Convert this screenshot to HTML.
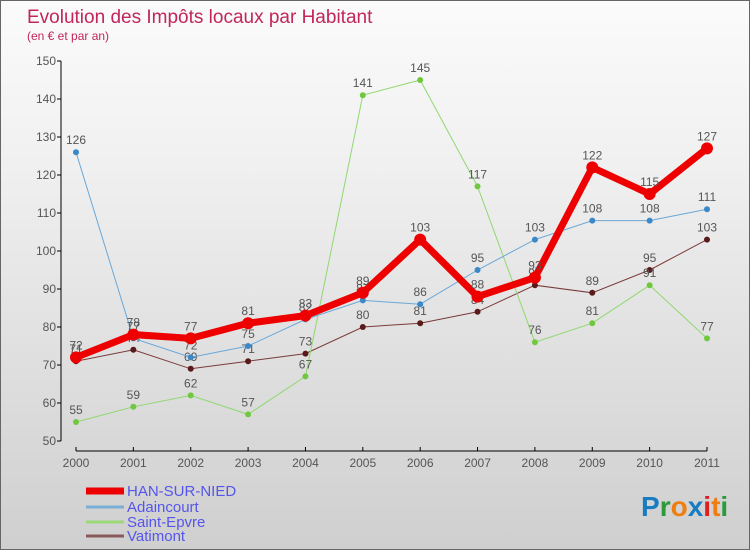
<!DOCTYPE html>
<html><head><meta charset="utf-8"><style>
body{margin:0}
#c{width:750px;height:550px;position:relative;background:linear-gradient(#fbfbfb,#f0f0f0 30%,#cfcfcf);border:1px solid #666;box-sizing:border-box;font-family:"Liberation Sans",sans-serif;overflow:hidden}
svg text{font-family:"Liberation Sans",sans-serif}
</style></head><body>
<div id="c">
<svg id="s" width="750" height="550">
<text x="26" y="22" font-size="19" fill="#c2255c">Evolution des Impôts locaux par Habitant</text>
<text x="26" y="39" font-size="12" fill="#c2255c">(en € et par an)</text>
<g id="ax"></g><g id="ser"></g>
<text x="640" y="515" font-size="28" font-weight="bold"><tspan fill="#1a7cc0">P</tspan><tspan fill="#2a9a3a">r</tspan><tspan fill="#f07d10">o</tspan><tspan fill="#1a7cc0">x</tspan><tspan fill="#e02020">i</tspan><tspan fill="#f07d10">t</tspan><tspan fill="#2a9a3a">i</tspan></text>
</svg>
</div>
<script>
const years=[2000,2001,2002,2003,2004,2005,2006,2007,2008,2009,2010,2011];
const yTicks=[50,60,70,80,90,100,110,120,130,140,150];
const han=[72,78,77,81,83,89,103,88,93,122,115,127];
const adaincourt=[126,77,72,75,82,87,86,95,103,108,108,111];
const saintEpvre=[55,59,62,57,67,141,145,117,76,81,91,77];
const vatimont=[71,74,69,71,73,80,81,84,91,89,95,103];
const NS="http://www.w3.org/2000/svg";
const x=i=>75+i*(631/11);
const y=v=>440-(v-50)*3.8;
function mk(t,a,p){const e=document.createElementNS(NS,t);for(const k in a)e.setAttribute(k,a[k]);p.appendChild(e);return e;}
const ax=document.getElementById('ax');
let l=mk('line',{x1:60,y1:y(150),x2:60,y2:y(50),stroke:'#000'},ax);


l=mk('line',{x1:x(0),y1:450,x2:x(11),y2:450,stroke:'#000'},ax);


yTicks.forEach(v=>{mk('line',{x1:56,y1:y(v),x2:60,y2:y(v),stroke:'#000'},ax);
const t=mk('text',{x:55,y:y(v)+4,'font-size':12,fill:'#555','text-anchor':'end'},ax);t.textContent=v;

});
years.forEach((yr,i)=>{mk('line',{x1:x(i),y1:446,x2:x(i),y2:450,stroke:'#000'},ax);
const t=mk('text',{x:x(i),y:466,'font-size':12,fill:'#555','text-anchor':'middle'},ax);t.textContent=yr;

});
const ser=document.getElementById('ser');
const defs=[
 {n:'vatimont',d:vatimont,c:'#7a3a3a',dot:'#5a1a1a',w:1,r:3,lab:'Vatimont'},
 {n:'saint-epvre',d:saintEpvre,c:'#90d870',dot:'#70c840',w:1,r:3,lab:'Saint-Epvre'},
 {n:'adaincourt',d:adaincourt,c:'#6aa8d8',dot:'#3a88c8',w:1,r:3,lab:'Adaincourt'},
 {n:'han-sur-nied',d:han,c:'#ee0000',dot:'#ee0000',w:7,r:6,lab:'HAN-SUR-NIED'}];
defs.forEach(s=>{
 const g=mk('g',{},ser);
 
 
 const p=mk('polyline',{points:s.d.map((v,i)=>x(i)+','+y(v)).join(' '),fill:'none',stroke:s.c,'stroke-width':s.w},g);
 
 
 s.d.forEach((v,i)=>{
  const c=mk('circle',{cx:x(i),cy:y(v),r:s.r,fill:s.dot},g);
  
  
  const t=mk('text',{x:x(i),y:y(v)-8,'font-size':12,fill:'#555','text-anchor':'middle'},g);t.textContent=v;
  
  
 });
});
const leg=[['HAN-SUR-NIED','#ee0000',7],['Adaincourt','#7aaed6',3],['Saint-Epvre','#9ad878',3],['Vatimont','#8a5a5a',3]];
const ly=[493,509,524,538];
leg.forEach((e,i)=>{
 const g=mk('g',{},ser);
 
 
 mk('line',{x1:85,y1:ly[i]-3,x2:123,y2:ly[i]-3,stroke:e[1],'stroke-width':e[2]},g);
 const t=mk('text',{x:126,y:ly[i]+2,'font-size':15,fill:'#5555ee'},g);t.textContent=e[0];
});
</script>
</body></html>
